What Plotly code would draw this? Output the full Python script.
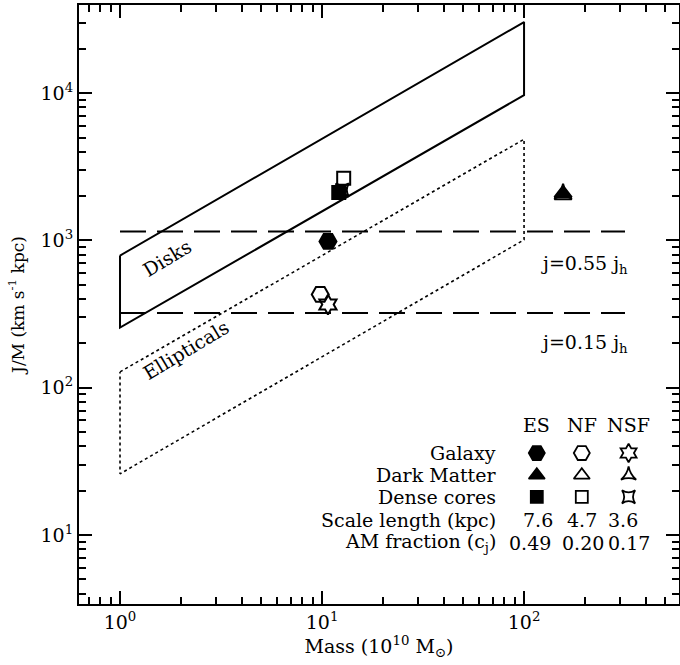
import plotly.graph_objects as go

# ---------------- data ----------------
runs = ["ES", "NF", "NSF"]
mass_galaxy = [10.7, 9.8, 10.7]
jm_galaxy = [985, 430, 367]
mass_dm = [156, 156, 156]
jm_dm = [2090, 2020, 2090]
mass_core = [12.1, 12.8, 12.6]
jm_core = [2120, 2640, 2200]

# Disk and elliptical regions (corner values)
disk_mass = [1, 100, 100, 1, 1]
disk_jm = [790, 30400, 9700, 256, 790]
ell_mass = [1, 100, 100, 1, 1]
ell_jm = [128, 4870, 1010, 26, 128]

# j = f * j_h lines
jline_mass = [1, 316]
jline_055 = [1150, 1150]
jline_015 = [322, 322]

scale_length = ["7.6", "4.7", "3.6"]
am_fraction = ["0.49", "0.20", "0.17"]

x_tickvals = [1, 10, 100]
x_ticktext = ["10<sup>0</sup>", "10<sup>1</sup>", "10<sup>2</sup>"]
y_tickvals = [10, 100, 1000, 10000]
y_ticktext = ["10<sup>1</sup>", "10<sup>2</sup>", "10<sup>3</sup>", "10<sup>4</sup>"]

FONT = "DejaVu Serif"

fig = go.Figure()

fig.add_trace(go.Scatter(x=disk_mass, y=disk_jm, mode="lines",
                         line=dict(color="black", width=2), showlegend=False))
fig.add_trace(go.Scatter(x=ell_mass, y=ell_jm, mode="lines",
                         line=dict(color="black", width=1.6, dash="dot"), showlegend=False))
for yy in (jline_055, jline_015):
    fig.add_trace(go.Scatter(x=jline_mass, y=yy, mode="lines",
                             line=dict(color="black", width=2, dash="26px,11px"),
                             showlegend=False))

sym_gal = ["hexagon2", "hexagon2-open", "hexagram-open"]
sym_dm = ["triangle-up", "triangle-up-open", "star-triangle-up-open"]
sym_core = ["square", "square-open", "star-square-open"]
size_gal = [17, 17, 15]
size_dm = [15, 15, 12]
size_core = [13, 13, 12]

# draw order: NSF, NF, ES (ES on top)
for i in [2, 1, 0]:
    for xs, ys, syms, sizes in ((mass_galaxy, jm_galaxy, sym_gal, size_gal),
                                (mass_dm, jm_dm, sym_dm, size_dm),
                                (mass_core, jm_core, sym_core, size_core)):
        fig.add_trace(go.Scatter(
            x=[xs[i]], y=[ys[i]], mode="markers", showlegend=False,
            marker=dict(symbol=syms[i], size=sizes[i], color="black",
                        line=dict(color="black", width=2))))

# table markers on an overlay axis (0..1 in plot area)
col_x = [0.763, 0.838, 0.916]
row_y = [0.252, 0.215, 0.179]
tab_size_gal = [16, 16, 14]
tab_size_dm = [14, 14, 11]
tab_size_core = [12, 12, 12]
for i in range(3):
    for r, (syms, sizes) in enumerate(((sym_gal, tab_size_gal), (sym_dm, tab_size_dm),
                                       (sym_core, tab_size_core))):
        fig.add_trace(go.Scatter(
            x=[col_x[i]], y=[row_y[r]], mode="markers", showlegend=False,
            xaxis="x2", yaxis="y2",
            marker=dict(symbol=syms[i], size=sizes[i], color="black",
                        line=dict(color="black", width=1.8))))

ann = []
def txt(x, y, s, size=19, xanchor="center", angle=0):
    ann.append(dict(x=x, y=y, xref="paper", yref="paper", text=s, showarrow=False,
                    xanchor=xanchor, yanchor="middle", textangle=angle,
                    font=dict(family=FONT, size=size, color="black")))

for i, r in enumerate(runs):
    txt(col_x[i], 0.299, r)
row_labels = ["Galaxy", "Dark Matter", "Dense cores", "Scale length (kpc)",
              "AM fraction (c<sub>j</sub>)"]
row_ys = [0.252, 0.215, 0.179, 0.140, 0.102]
for lab, yy in zip(row_labels, row_ys):
    txt(0.698, yy, lab, xanchor="right")
val_x1 = [0.765, 0.838, 0.907]
val_x2 = [0.752, 0.840, 0.917]
for i in range(3):
    txt(val_x1[i], 0.140, scale_length[i])
    txt(val_x2[i], 0.102, am_fraction[i])

txt(0.842, 0.567, "j=0.55 j<sub>h</sub>")
txt(0.842, 0.435, "j=0.15 j<sub>h</sub>")
txt(0.147, 0.577, "Disks", angle=-31)
txt(0.178, 0.424, "Ellipticals", angle=-31)

fig.update_layout(
    width=680, height=665,
    margin=dict(l=79, r=1, t=5, b=61),
    paper_bgcolor="white", plot_bgcolor="white",
    font=dict(family=FONT, size=18, color="black"),
    annotations=ann,
    xaxis=dict(type="log", range=[-0.203, 2.767], tickvals=x_tickvals, ticktext=x_ticktext,
               ticks="inside", ticklen=13, tickwidth=1.5, tickcolor="black",
               minor=dict(ticks="inside", ticklen=7, tickwidth=1.5, tickcolor="black",
                          dtick="D1", showgrid=False),
               showline=True, linecolor="black", linewidth=2, mirror="allticks",
               showgrid=False, zeroline=False, automargin=False,
               tickfont=dict(family=FONT, size=19),
               title=dict(text="Mass (10<sup>10</sup> M<sub>⊙</sub>)", standoff=6,
                          font=dict(family=FONT, size=19))),
    yaxis=dict(type="log", range=[0.531, 4.599], tickvals=y_tickvals, ticktext=y_ticktext,
               ticks="inside", ticklen=13, tickwidth=1.5, tickcolor="black",
               minor=dict(ticks="inside", ticklen=7, tickwidth=1.5, tickcolor="black",
                          dtick="D1", showgrid=False),
               showline=True, linecolor="black", linewidth=2, mirror="allticks",
               showgrid=False, zeroline=False, automargin=False,
               tickfont=dict(family=FONT, size=19),
               title=dict(text="J/M (km s<sup>-1</sup> kpc)", standoff=12,
                          font=dict(family=FONT, size=17))),
    xaxis2=dict(overlaying="x", range=[0, 1], visible=False, fixedrange=True),
    yaxis2=dict(overlaying="y", range=[0, 1], visible=False, fixedrange=True),
)

fig.write_html("out.html", config={"displayModeBar": False},
               post_script="document.body.style.margin='0';document.body.style.padding='0';")
